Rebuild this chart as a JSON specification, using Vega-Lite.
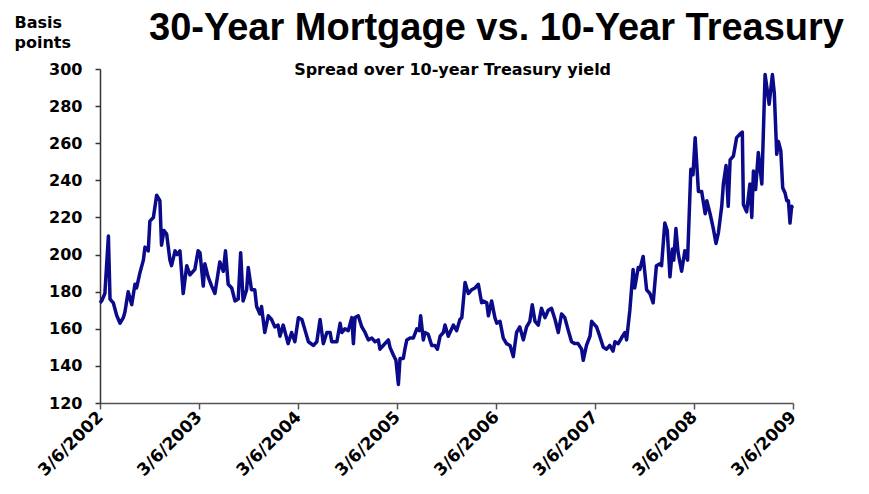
{
  "$schema": "https://vega.github.io/schema/vega-lite/v6.json",
  "width": 693,
  "height": 334,
  "autosize": {"type": "none"},
  "padding": {"left": 100, "top": 69, "right": 76, "bottom": 91},
  "background": "white",
  "config": {
    "view": {"stroke": null},
    "font": "DejaVu Sans",
    "axis": {"labelOverlap": false},
    "axisY": {"labelOverlap": false},
    "axisQuantitative": {"labelOverlap": false}
  },
  "title": {
    "text": "30-Year Mortgage vs. 10-Year Treasury",
    "font": "Liberation Sans",
    "fontSize": 38,
    "fontWeight": "bold",
    "color": "black",
    "anchor": "middle",
    "frame": "group",
    "dx": 50,
    "offset": -34
  },
  "layer": [
    {
      "data": {
        "values": [
          {"date": "2002-03-06", "spread": 174}, {"date": "2002-03-12", "spread": 175}, {"date": "2002-03-24", "spread": 179},
          {"date": "2002-04-06", "spread": 210}, {"date": "2002-04-12", "spread": 176}, {"date": "2002-04-24", "spread": 174},
          {"date": "2002-05-07", "spread": 167}, {"date": "2002-05-19", "spread": 163}, {"date": "2002-05-31", "spread": 166},
          {"date": "2002-06-06", "spread": 169}, {"date": "2002-06-18", "spread": 180}, {"date": "2002-07-01", "spread": 173},
          {"date": "2002-07-13", "spread": 184}, {"date": "2002-07-19", "spread": 182}, {"date": "2002-07-31", "spread": 190},
          {"date": "2002-08-13", "spread": 197}, {"date": "2002-08-19", "spread": 204}, {"date": "2002-08-31", "spread": 202},
          {"date": "2002-09-06", "spread": 218}, {"date": "2002-09-19", "spread": 220}, {"date": "2002-10-01", "spread": 232},
          {"date": "2002-10-13", "spread": 229}, {"date": "2002-10-19", "spread": 205}, {"date": "2002-10-28", "spread": 213},
          {"date": "2002-11-07", "spread": 211}, {"date": "2002-11-19", "spread": 197}, {"date": "2002-11-25", "spread": 194},
          {"date": "2002-12-08", "spread": 202}, {"date": "2002-12-16", "spread": 200}, {"date": "2002-12-26", "spread": 202},
          {"date": "2003-01-07", "spread": 179}, {"date": "2003-01-20", "spread": 194}, {"date": "2003-02-01", "spread": 189},
          {"date": "2003-02-19", "spread": 192}, {"date": "2003-03-03", "spread": 202}, {"date": "2003-03-10", "spread": 201},
          {"date": "2003-03-22", "spread": 183}, {"date": "2003-03-28", "spread": 195}, {"date": "2003-04-09", "spread": 188},
          {"date": "2003-04-22", "spread": 183}, {"date": "2003-05-04", "spread": 179}, {"date": "2003-05-22", "spread": 196},
          {"date": "2003-06-04", "spread": 191}, {"date": "2003-06-12", "spread": 202}, {"date": "2003-06-22", "spread": 184},
          {"date": "2003-07-05", "spread": 182}, {"date": "2003-07-17", "spread": 175}, {"date": "2003-07-29", "spread": 176},
          {"date": "2003-08-07", "spread": 201}, {"date": "2003-08-16", "spread": 175}, {"date": "2003-08-29", "spread": 181},
          {"date": "2003-09-04", "spread": 193}, {"date": "2003-09-16", "spread": 181}, {"date": "2003-09-28", "spread": 181},
          {"date": "2003-10-05", "spread": 172}, {"date": "2003-10-17", "spread": 168}, {"date": "2003-10-23", "spread": 172},
          {"date": "2003-11-04", "spread": 158}, {"date": "2003-11-17", "spread": 167}, {"date": "2003-11-29", "spread": 165},
          {"date": "2003-12-11", "spread": 161}, {"date": "2003-12-23", "spread": 162}, {"date": "2003-12-30", "spread": 156},
          {"date": "2004-01-11", "spread": 162}, {"date": "2004-01-29", "spread": 152}, {"date": "2004-02-11", "spread": 158},
          {"date": "2004-02-23", "spread": 153}, {"date": "2004-03-07", "spread": 166}, {"date": "2004-03-20", "spread": 165},
          {"date": "2004-04-01", "spread": 159}, {"date": "2004-04-13", "spread": 153}, {"date": "2004-05-01", "spread": 151},
          {"date": "2004-05-14", "spread": 153}, {"date": "2004-05-26", "spread": 165}, {"date": "2004-06-07", "spread": 152},
          {"date": "2004-06-20", "spread": 158}, {"date": "2004-07-02", "spread": 158}, {"date": "2004-07-08", "spread": 153},
          {"date": "2004-07-27", "spread": 153}, {"date": "2004-08-08", "spread": 163}, {"date": "2004-08-14", "spread": 158},
          {"date": "2004-08-26", "spread": 160}, {"date": "2004-09-07", "spread": 159}, {"date": "2004-09-20", "spread": 166},
          {"date": "2004-09-26", "spread": 152}, {"date": "2004-10-02", "spread": 166}, {"date": "2004-10-14", "spread": 167},
          {"date": "2004-10-27", "spread": 161}, {"date": "2004-11-08", "spread": 158}, {"date": "2004-11-20", "spread": 154},
          {"date": "2004-12-03", "spread": 155}, {"date": "2004-12-15", "spread": 153}, {"date": "2004-12-27", "spread": 154},
          {"date": "2005-01-02", "spread": 149}, {"date": "2005-01-14", "spread": 151}, {"date": "2005-02-02", "spread": 154},
          {"date": "2005-02-08", "spread": 150}, {"date": "2005-02-20", "spread": 146}, {"date": "2005-03-02", "spread": 143},
          {"date": "2005-03-11", "spread": 130}, {"date": "2005-03-17", "spread": 144}, {"date": "2005-03-29", "spread": 144},
          {"date": "2005-04-04", "spread": 149}, {"date": "2005-04-11", "spread": 154}, {"date": "2005-04-23", "spread": 155},
          {"date": "2005-05-05", "spread": 155}, {"date": "2005-05-18", "spread": 160}, {"date": "2005-05-27", "spread": 159},
          {"date": "2005-06-01", "spread": 167}, {"date": "2005-06-11", "spread": 154}, {"date": "2005-06-17", "spread": 158},
          {"date": "2005-06-29", "spread": 157}, {"date": "2005-07-12", "spread": 151}, {"date": "2005-07-24", "spread": 151},
          {"date": "2005-08-02", "spread": 149}, {"date": "2005-08-12", "spread": 156}, {"date": "2005-08-24", "spread": 158},
          {"date": "2005-08-30", "spread": 162}, {"date": "2005-09-11", "spread": 156}, {"date": "2005-09-30", "spread": 162},
          {"date": "2005-10-12", "spread": 159}, {"date": "2005-10-24", "spread": 165}, {"date": "2005-10-31", "spread": 166},
          {"date": "2005-11-12", "spread": 185}, {"date": "2005-11-24", "spread": 179}, {"date": "2005-12-06", "spread": 181},
          {"date": "2005-12-19", "spread": 182}, {"date": "2005-12-31", "spread": 184}, {"date": "2006-01-12", "spread": 174},
          {"date": "2006-01-18", "spread": 175}, {"date": "2006-01-31", "spread": 174}, {"date": "2006-02-06", "spread": 167},
          {"date": "2006-02-18", "spread": 175}, {"date": "2006-03-02", "spread": 166}, {"date": "2006-03-09", "spread": 163},
          {"date": "2006-03-21", "spread": 164}, {"date": "2006-04-02", "spread": 155}, {"date": "2006-04-14", "spread": 152},
          {"date": "2006-04-27", "spread": 151}, {"date": "2006-05-09", "spread": 145}, {"date": "2006-05-21", "spread": 158},
          {"date": "2006-06-02", "spread": 161}, {"date": "2006-06-15", "spread": 154}, {"date": "2006-06-27", "spread": 161},
          {"date": "2006-07-09", "spread": 164}, {"date": "2006-07-18", "spread": 173}, {"date": "2006-07-28", "spread": 164},
          {"date": "2006-08-09", "spread": 162}, {"date": "2006-08-21", "spread": 171}, {"date": "2006-09-03", "spread": 166},
          {"date": "2006-09-15", "spread": 170}, {"date": "2006-09-27", "spread": 171}, {"date": "2006-10-10", "spread": 165},
          {"date": "2006-10-22", "spread": 158}, {"date": "2006-11-03", "spread": 168}, {"date": "2006-11-15", "spread": 166},
          {"date": "2006-11-28", "spread": 159}, {"date": "2006-12-10", "spread": 153}, {"date": "2006-12-22", "spread": 152},
          {"date": "2007-01-03", "spread": 152}, {"date": "2007-01-16", "spread": 149}, {"date": "2007-01-22", "spread": 143},
          {"date": "2007-02-03", "spread": 151}, {"date": "2007-02-16", "spread": 156}, {"date": "2007-02-22", "spread": 164},
          {"date": "2007-03-06", "spread": 162}, {"date": "2007-03-12", "spread": 161}, {"date": "2007-03-24", "spread": 156},
          {"date": "2007-04-06", "spread": 150}, {"date": "2007-04-18", "spread": 149}, {"date": "2007-04-30", "spread": 151},
          {"date": "2007-05-12", "spread": 148}, {"date": "2007-05-19", "spread": 153}, {"date": "2007-05-31", "spread": 152},
          {"date": "2007-06-12", "spread": 155}, {"date": "2007-06-25", "spread": 158}, {"date": "2007-07-01", "spread": 154},
          {"date": "2007-07-13", "spread": 170}, {"date": "2007-07-25", "spread": 192}, {"date": "2007-07-31", "spread": 182},
          {"date": "2007-08-13", "spread": 193}, {"date": "2007-08-19", "spread": 192}, {"date": "2007-08-31", "spread": 199},
          {"date": "2007-09-13", "spread": 181}, {"date": "2007-09-25", "spread": 179}, {"date": "2007-10-07", "spread": 174},
          {"date": "2007-10-19", "spread": 194}, {"date": "2007-11-01", "spread": 195}, {"date": "2007-11-07", "spread": 194},
          {"date": "2007-11-19", "spread": 217}, {"date": "2007-11-28", "spread": 213}, {"date": "2007-12-08", "spread": 188},
          {"date": "2007-12-17", "spread": 203}, {"date": "2007-12-22", "spread": 197}, {"date": "2007-12-30", "spread": 214},
          {"date": "2008-01-07", "spread": 201}, {"date": "2008-01-20", "spread": 191}, {"date": "2008-02-01", "spread": 202},
          {"date": "2008-02-11", "spread": 197}, {"date": "2008-02-23", "spread": 246}, {"date": "2008-03-02", "spread": 243},
          {"date": "2008-03-10", "spread": 263}, {"date": "2008-03-22", "spread": 234}, {"date": "2008-04-03", "spread": 234},
          {"date": "2008-04-16", "spread": 222}, {"date": "2008-04-22", "spread": 229}, {"date": "2008-05-04", "spread": 222},
          {"date": "2008-05-16", "spread": 214}, {"date": "2008-05-26", "spread": 206}, {"date": "2008-06-04", "spread": 212},
          {"date": "2008-06-16", "spread": 226}, {"date": "2008-06-22", "spread": 238}, {"date": "2008-07-02", "spread": 248},
          {"date": "2008-07-10", "spread": 226}, {"date": "2008-07-17", "spread": 251}, {"date": "2008-07-29", "spread": 253},
          {"date": "2008-08-10", "spread": 263}, {"date": "2008-08-23", "spread": 265}, {"date": "2008-08-31", "spread": 266},
          {"date": "2008-09-04", "spread": 227}, {"date": "2008-09-16", "spread": 223}, {"date": "2008-09-28", "spread": 238},
          {"date": "2008-10-05", "spread": 220}, {"date": "2008-10-11", "spread": 245}, {"date": "2008-10-19", "spread": 235},
          {"date": "2008-10-29", "spread": 255}, {"date": "2008-11-11", "spread": 238}, {"date": "2008-11-23", "spread": 297},
          {"date": "2008-12-08", "spread": 281}, {"date": "2008-12-20", "spread": 297}, {"date": "2008-12-27", "spread": 287},
          {"date": "2009-01-05", "spread": 254}, {"date": "2009-01-11", "spread": 261}, {"date": "2009-01-20", "spread": 256},
          {"date": "2009-01-27", "spread": 236}, {"date": "2009-02-05", "spread": 233}, {"date": "2009-02-11", "spread": 229},
          {"date": "2009-02-17", "spread": 229}, {"date": "2009-02-23", "spread": 217}, {"date": "2009-03-01", "spread": 226},
          {"date": "2009-03-05", "spread": 225}
        ]
      },
      "mark": {"type": "line", "color": "#0A0A8A", "strokeWidth": 3.5, "strokeJoin": "round"},
      "encoding": {
        "x": {
          "field": "date",
          "type": "temporal",
          "scale": {
            "type": "utc",
            "domain": [
              {"year": 2002, "month": 3, "date": 6, "utc": true},
              {"year": 2009, "month": 3, "date": 6, "utc": true}
            ]
          },
          "axis": {
            "title": null,
            "values": [
              {"year": 2002, "month": 3, "date": 6, "utc": true},
              {"year": 2003, "month": 3, "date": 6, "utc": true},
              {"year": 2004, "month": 3, "date": 6, "utc": true},
              {"year": 2005, "month": 3, "date": 6, "utc": true},
              {"year": 2006, "month": 3, "date": 6, "utc": true},
              {"year": 2007, "month": 3, "date": 6, "utc": true},
              {"year": 2008, "month": 3, "date": 6, "utc": true},
              {"year": 2009, "month": 3, "date": 6, "utc": true}
            ],
            "labelExpr": "utcFormat(datum.value, '%-m/%-d/%Y')",
            "labelAngle": -45,
            "labelAlign": "right",
            "labelBaseline": "middle",
            "labelFont": "DejaVu Sans",
            "labelFontSize": 17,
            "labelFontWeight": "bold",
            "labelColor": "black",
            "labelPadding": 5,
            "labelOverlap": false,
            "labelBound": false,
            "labelFlush": false,
            "grid": false,
            "domainColor": "#555555",
            "domainWidth": 1.5,
            "tickColor": "#555555",
            "tickWidth": 1.5,
            "tickSize": 6
          }
        },
        "y": {
          "field": "spread",
          "type": "quantitative",
          "scale": {"domain": [120, 300], "nice": false, "zero": false},
          "axis": {
            "title": ["Basis", "points"],
            "titleAngle": 0,
            "titleAlign": "left",
            "titleBaseline": "alphabetic",
            "titleX": -86,
            "titleY": -42,
            "titleLineHeight": 20,
            "titleFont": "DejaVu Sans",
            "titleFontSize": 16,
            "titleFontWeight": "bold",
            "titleColor": "black",
            "values": [120, 140, 160, 180, 200, 220, 240, 260, 280, 300],
            "tickCount": 10,
            "labelOverlap": false,
            "labelFlush": false,
            "labelFont": "DejaVu Sans",
            "labelFontSize": 16,
            "labelFontWeight": "bold",
            "labelColor": "black",
            "labelPadding": 13,
            "grid": false,
            "domainColor": "#333333",
            "domainWidth": 1.5,
            "tickColor": "#333333",
            "tickWidth": 1.5,
            "tickSize": 5
          }
        }
      }
    },
    {
      "data": {"values": [{"label": "Spread over 10-year Treasury yield"}]},
      "mark": {
        "type": "text",
        "font": "DejaVu Sans",
        "fontSize": 16,
        "fontWeight": "bold",
        "color": "black",
        "align": "center",
        "baseline": "alphabetic"
      },
      "encoding": {
        "x": {"datum": {"year": 2005, "month": 9, "date": 27, "utc": true}, "type": "temporal"},
        "y": {"datum": 296.5, "type": "quantitative"},
        "text": {"field": "label"}
      }
    }
  ]
}
